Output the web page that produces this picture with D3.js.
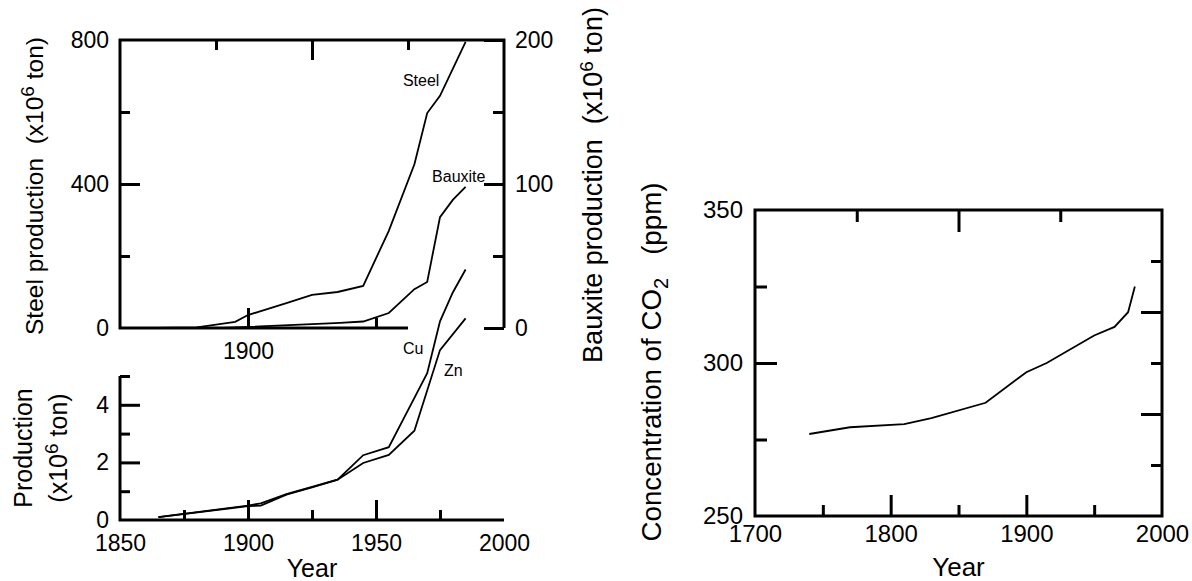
<!DOCTYPE html>
<html><head><meta charset="utf-8">
<script src="https://cdn.jsdelivr.net/npm/d3@7"></script>
<style>
body{margin:0;background:#fff;}
svg text{font-family:"Liberation Sans",Arial,Helvetica,sans-serif;fill:#000;}
</style></head><body>
<svg id="c" width="1192" height="581"></svg>
<script>
// ---------- data ----------
const steelYears   = [1865,1880,1895,1900,1905,1915,1925,1935,1945,1955,1965,1970,1975,1985];
const steelValues  = [0,2,17,36,47,69,92,100,117,270,455,597,645,795];
const bauxiteYears = [1890,1900,1925,1936,1945,1955,1965,1970,1975,1980,1985];
const bauxiteValues= [0,0.7,2.7,3.5,4.5,10.4,27,32,77,89,98];
const cuYears      = [1865,1900,1905,1915,1925,1935,1945,1955,1965,1970,1975,1980,1985];
const cuValues     = [0.1,0.5,0.58,0.9,1.15,1.4,2.25,2.53,4.24,5.1,6.9,7.9,8.7];
const znYears      = [1865,1900,1905,1915,1925,1935,1945,1955,1965,1975,1985];
const znValues     = [0.1,0.48,0.5,0.88,1.13,1.4,1.98,2.26,3.1,5.9,7.0];
const co2Years     = [1740,1770,1810,1830,1870,1900,1915,1950,1965,1975,1980];
const co2Values    = [276.8,279,280,282,287,297,300,309,311.8,316.6,325];

// tick values
const steelLabelTicks = [0,400,800], steelMajor = [400], steelMinor = [200,600];
const bauxLabelTicks = [0,100,200], bauxMajor = [0,100,200], bauxMinor = [50,150];
const topBottomLabels = [1900], topBottomMajor = [1900], topBottomMinor = [1950];
const topTopMajor = [1925], topTopMinor = [1887.5,1962.5];
const prodLabelTicks = [0,2,4], prodMajor = [2,4], prodMinor = [1,3,5];
const yearLabelsL = [1850,1900,1950,2000], yearMajorL = [1900,1950], yearMinorL = [1875,1925,1975];
const co2LabelTicks = [250,300,350], co2Major = [300], co2Minor = [275,325];
const co2RightMajor = [283.333,316.667], co2RightMinor = [266.667,300,333.333];
const yearLabelsR = [1700,1800,1900,2000], yearMajorR = [1800,1900], yearMinorR = [1750,1850,1950];
const yearTopMajorR = [1850], yearTopMinorR = [1775,1925];

// ---------- scales ----------
const svg = d3.select("#c");
const xL = d3.scaleLinear().domain([1850,2000]).range([120,504]);
const ySteel = d3.scaleLinear().domain([0,800]).range([328,40]);
const yBaux = d3.scaleLinear().domain([0,200]).range([328,40]);
const yProd = d3.scaleLinear().domain([0,5]).range([520,376]);
const xR = d3.scaleLinear().domain([1700,2000]).range([755,1162]);
const yCO2 = d3.scaleLinear().domain([250,350]).range([516,210]);

function axisG(orient, scale, tx, ty, values, len, labels, fs, pad){
  const a = orient(scale).tickValues(values).tickSizeInner(-len).tickSizeOuter(0)
    .tickPadding(pad||10).tickFormat(labels ? d3.format("d") : "");
  const g = svg.append("g").attr("transform",`translate(${tx},${ty})`).call(a);
  g.select(".domain").remove();
  g.attr("font-family", null).attr("font-size", null);
  g.selectAll("line").attr("stroke","#000").attr("stroke-width",3);
  g.selectAll("text").attr("font-size", fs||23);
  return g;
}

// ---------- top panel (steel / bauxite) ----------
axisG(d3.axisLeft, ySteel, xL(1850), 0, steelLabelTicks, 0, true, 23, 11);
axisG(d3.axisLeft, ySteel, xL(1850), 0, steelMajor, 20, false);
axisG(d3.axisLeft, ySteel, xL(1850), 0, steelMinor, 10, false);
axisG(d3.axisRight, yBaux, xL(2000), 0, bauxLabelTicks, 0, true, 23, 11);
axisG(d3.axisRight, yBaux, xL(2000), 0, bauxMajor, 20, false);
axisG(d3.axisRight, yBaux, xL(2000), 0, bauxMinor, 11, false);
axisG(d3.axisBottom, xL, 0, ySteel(0), topBottomLabels, 0, true, 23, 15);
axisG(d3.axisBottom, xL, 0, ySteel(0), topBottomMajor, 20, false);
axisG(d3.axisBottom, xL, 0, ySteel(0), topBottomMinor, 10, false);
axisG(d3.axisTop, xL, 0, ySteel(800), topTopMajor, 20, false);
axisG(d3.axisTop, xL, 0, ySteel(800), topTopMinor, 10, false);

svg.append("path")
  .attr("d", `M${xL(1962.5)},${ySteel(0)}H${xL(1850)}V${ySteel(800)}H${xL(2000)}V${ySteel(0)}`)
  .attr("fill","none").attr("stroke","#000").attr("stroke-width",3).attr("stroke-linejoin","miter");

const lineTop = (ys) => d3.line().x(d=>xL(d[0])).y(d=>ys(d[1]));
svg.append("path").datum(d3.zip(steelYears, steelValues))
  .attr("d", lineTop(ySteel)).attr("fill","none").attr("stroke","#000").attr("stroke-width",1.8);
svg.append("path").datum(d3.zip(bauxiteYears, bauxiteValues))
  .attr("d", lineTop(yBaux)).attr("fill","none").attr("stroke","#000").attr("stroke-width",1.8);

svg.append("text").attr("x", xL(1960.5)).attr("y", ySteel(672)).attr("font-size",16).text("Steel");
svg.append("text").attr("x", xL(1971.9)).attr("y", yBaux(101.4)).attr("font-size",16).text("Bauxite");

function rotTitle(x, y, parts, fs){
  const t = svg.append("text").attr("transform",`translate(${x},${y}) rotate(-90)`)
    .attr("text-anchor","middle").attr("font-size",fs).style("white-space","pre");
  parts.forEach(p => {
    const s = t.append("tspan").text(p.t);
    if(p.dy) s.attr("dy", p.dy);
    if(p.fs) s.attr("font-size", p.fs);
  });
  return t;
}
rotTitle(43, 186, [{t:"Steel production  (x10"},{t:"6",dy:-9,fs:19},{t:" ton)",dy:9}], 24.5);
rotTitle(602, 185, [{t:"Bauxite production  (x10"},{t:"6",dy:-9,fs:19},{t:" ton)",dy:9}], 27);

// ---------- bottom panel (Cu / Zn) ----------
axisG(d3.axisLeft, yProd, xL(1850), 0, prodLabelTicks, 0, true, 23, 11);
axisG(d3.axisLeft, yProd, xL(1850), 0, prodMajor, 20, false);
axisG(d3.axisLeft, yProd, xL(1850), 0, prodMinor, 10, false);
axisG(d3.axisBottom, xL, 0, yProd(0), yearLabelsL, 0, true, 23, 15);
axisG(d3.axisBottom, xL, 0, yProd(0), yearMajorL, 20, false);
axisG(d3.axisBottom, xL, 0, yProd(0), yearMinorL, 10, false);
svg.append("path")
  .attr("d", `M${xL(1850)},${yProd(5)}V${yProd(0)}H${xL(2000)}`)
  .attr("fill","none").attr("stroke","#000").attr("stroke-width",3);

const lineProd = d3.line().x(d=>xL(d[0])).y(d=>yProd(d[1]));
svg.append("path").datum(d3.zip(cuYears, cuValues)).attr("d", lineProd)
  .attr("fill","none").attr("stroke","#000").attr("stroke-width",1.8);
svg.append("path").datum(d3.zip(znYears, znValues)).attr("d", lineProd)
  .attr("fill","none").attr("stroke","#000").attr("stroke-width",1.8);
svg.append("text").attr("x", xL(1960.5)).attr("y", yProd(5.76)).attr("font-size",16).text("Cu");
svg.append("text").attr("x", xL(1976.6)).attr("y", yProd(5.0)).attr("font-size",16).text("Zn");

rotTitle(32, 448, [{t:"Production"}], 25);
rotTitle(67, 448, [{t:"(x10"},{t:"6",dy:-9,fs:19},{t:" ton)",dy:9}], 25);
svg.append("text").attr("x", xL(1925)).attr("y", 577).attr("text-anchor","middle").attr("font-size",25).text("Year");

// ---------- right panel (CO2) ----------
axisG(d3.axisLeft, yCO2, xR(1700), 0, co2LabelTicks, 0, true, 24, 12);
axisG(d3.axisLeft, yCO2, xR(1700), 0, co2Major, 22, false);
axisG(d3.axisLeft, yCO2, xR(1700), 0, co2Minor, 12, false);
axisG(d3.axisRight, yCO2, xR(2000), 0, co2RightMajor, 21, false);
axisG(d3.axisRight, yCO2, xR(2000), 0, co2RightMinor, 11, false);
axisG(d3.axisBottom, xR, 0, yCO2(250), yearLabelsR, 0, true, 24, 9);
axisG(d3.axisBottom, xR, 0, yCO2(250), yearMajorR, 21, false);
axisG(d3.axisBottom, xR, 0, yCO2(250), yearMinorR, 11, false);
axisG(d3.axisTop, xR, 0, yCO2(350), yearTopMajorR, 22, false);
axisG(d3.axisTop, xR, 0, yCO2(350), yearTopMinorR, 12, false);
svg.append("rect").attr("x", xR(1700)).attr("y", yCO2(350))
  .attr("width", xR(2000)-xR(1700)).attr("height", yCO2(250)-yCO2(350))
  .attr("fill","none").attr("stroke","#000").attr("stroke-width",3);

svg.append("path").datum(d3.zip(co2Years, co2Values))
  .attr("d", d3.line().x(d=>xR(d[0])).y(d=>yCO2(d[1])))
  .attr("fill","none").attr("stroke","#000").attr("stroke-width",1.8);

rotTitle(661, 362, [{t:"Concentration of CO"},{t:"2",dy:7,fs:20},{t:"   (ppm)",dy:-7}], 27.7);
svg.append("text").attr("x", xR(1850)).attr("y", 576).attr("text-anchor","middle").attr("font-size",26).text("Year");
</script>
</body></html>
